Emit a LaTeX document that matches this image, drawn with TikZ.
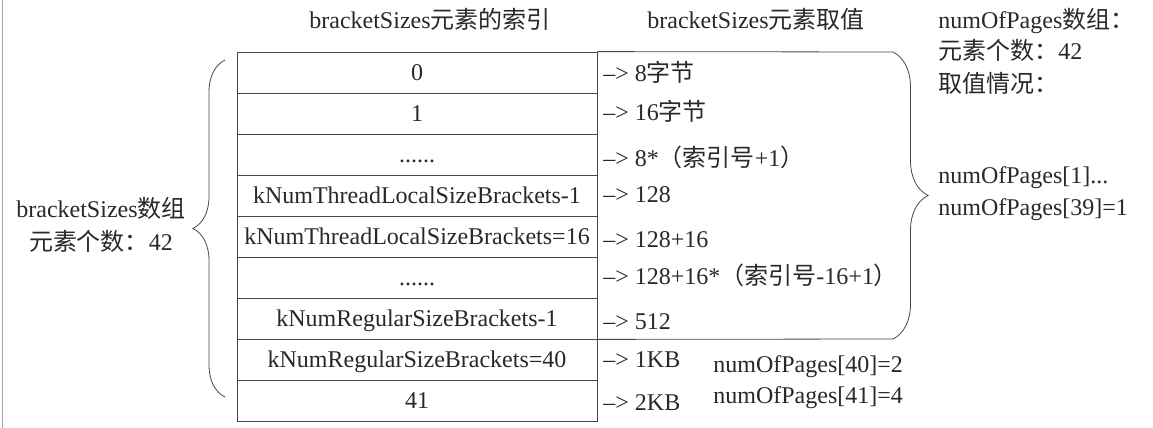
\documentclass[tikz,border=0pt]{standalone}
\usepackage{fontspec}
\setmainfont{Liberation Serif}
\newfontfamily\cjk{Noto Sans CJK SC}
\newcommand{\zh}[1]{{\cjk #1}}
\newcommand{\ar}{\textendash> }
\usetikzlibrary{decorations.pathreplacing}
\definecolor{ink}{RGB}{40,40,40}
\definecolor{rule}{RGB}{70,70,70}
\tikzset{
  cell/.style={draw=rule, minimum width=180pt, minimum height=20.5pt, inner sep=0pt, text height=8pt, text depth=0pt},
  val/.style={anchor=base west, inner sep=0pt},
  note/.style={anchor=base west, inner sep=0pt},
  head/.style={anchor=base, inner sep=0pt},
  brc/.style={draw=rule, decorate, decoration={brace, amplitude=#1}},
}

\begin{document}
\begin{tikzpicture}[x=0.5pt, y=-0.5pt, font=\fontsize{12pt}{14pt}\selectfont, text=ink]
  \useasboundingbox (0,0) rectangle (1153,428);
  \draw[gray!70] (2,0) -- (2,428);

  % column titles
  \node[head] (hidx) at (430,28) {bracketSizes\zh{元素的索引}};
  \node[head] (hval) at (756,28) {bracketSizes\zh{元素取值}};

  % index column
  \node[cell] (c0) at (417,72.5) {0};
  \node[cell] (c1) at (417,113.5) {1};
  \node[cell] (c2) at (417,154.5) {......};
  \node[cell] (c3) at (417,195.5) {kNumThreadLocalSizeBrackets-1};
  \node[cell] (c4) at (417,236.5) {kNumThreadLocalSizeBrackets=16};
  \node[cell] (c5) at (417,277.5) {......};
  \node[cell] (c6) at (417,318.5) {kNumRegularSizeBrackets-1};
  \node[cell] (c7) at (417,359.5) {kNumRegularSizeBrackets=40};
  \node[cell] (c8) at (417,400.5) {41};

  % values
  \node[val] (v0) at (603,81) {\ar 8\zh{字节}};
  \node[val] (v1) at (603,120) {\ar 16\zh{字节}};
  \node[val] (v2) at (603,166) {\ar 8*\zh{（索引号}+1\zh{）}};
  \node[val] (v3) at (603,202) {\ar 128};
  \node[val] (v4) at (603,247) {\ar 128+16};
  \node[val] (v5) at (603,284) {\ar 128+16*\zh{（索引号}-16+1\zh{）}};
  \node[val] (v6) at (603,329) {\ar 512};
  \node[val] (v7) at (603,367) {\ar 1KB};
  \node[val] (v8) at (603,410) {\ar 2KB};

  % left brace
  \coordinate (lt) at (225,60);
  \coordinate (lb) at (225,397);
  \draw[brc=16pt] (lb) -- (lt);
  \node[head] (arr1) at (101,217) {bracketSizes\zh{数组}};
  \node[head] (arr2) at (101,250) {\zh{元素个数：}42};

  % right brace
  \coordinate (rt) at (893,52);
  \coordinate (rb) at (893,339);
  \draw[rule] (c0.north east) -- (rt);
  \draw[rule] (c6.south east) -- (rb);
  \draw[brc=17.5pt] (rt) -- (rb);

  % numOfPages
  \node[note] (n0) at (938,28) {numOfPages\zh{数组：}};
  \node[note] (n1) at (938,60) {\zh{元素个数：}42};
  \node[note] (n2) at (938,92) {\zh{取值情况：}};
  \node[note] (n3) at (938,183) {numOfPages[1]...};
  \node[note] (n4) at (938,215) {numOfPages[39]=1};
  \node[note] (n5) at (713,372) {numOfPages[40]=2};
  \node[note] (n6) at (713,403) {numOfPages[41]=4};
\end{tikzpicture}
\end{document}
